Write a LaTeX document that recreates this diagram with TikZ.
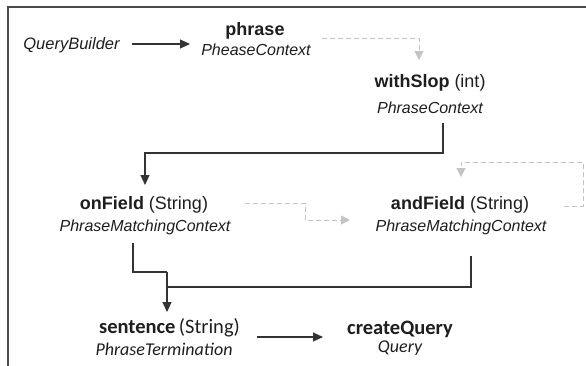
\documentclass[tikz,border=0pt]{standalone}
\usepackage{fontspec}
\setmainfont{Liberation Sans}
\newfontfamily\calib{Carlito}
\usetikzlibrary{arrows.meta,calc}
\definecolor{lineDark}{HTML}{333333}
\definecolor{dashGray}{HTML}{C4C4C4}
\definecolor{txtc}{HTML}{1E1E1E}
\definecolor{frameC}{HTML}{4A4A4A}
\begin{document}
\begin{tikzpicture}[x=1pt,y=-1pt,
  title/.style={inner sep=0pt, anchor=base, text=txtc, font=\fontsize{18}{20}\selectfont},
  typ/.style={inner sep=0pt, anchor=base, text=txtc, font=\fontsize{16}{18}\selectfont\itshape},
  btitle/.style={inner sep=0pt, anchor=base, text=txtc, font=\calib\fontsize{20.5}{22}\selectfont},
  btyp/.style={inner sep=0pt, anchor=base, text=txtc, font=\calib\fontsize{18}{20}\selectfont\itshape},
  sarr/.style={draw=lineDark, line width=1.1pt, -{Triangle[length=10pt,width=9pt]}},
  sline/.style={draw=lineDark, line width=1.1pt},
  darr/.style={draw=dashGray, line width=1pt, dash pattern=on 5pt off 3pt, -{Triangle[length=9pt,width=9pt]}},
  frame/.style={draw=frameC, line width=1.5pt},
]
\useasboundingbox (0,0) rectangle (586,365);
\fill[white] (0,0) rectangle (586,365);
\draw[frame] (8,366) -- (8,7) -- (587,7);

% nodes
\node[typ, font=\fontsize{16.5}{18}\selectfont\itshape] (qb) at (71.5,49.5) {QueryBuilder};
\node[title] (phrase) at (255,35) {\bfseries phrase};
\node[typ] (phraseT) at (256,55.5) {PheaseContext};
\node[title] (slop) at (430,87) {\textbf{withSlop} (int)};
\node[typ] (slopT) at (430,113.5) {PhraseContext};
\node[title] (onf) at (144,209) {\textbf{onField} (String)};
\node[typ] (onfT) at (145,231) {PhraseMatchingContext};
\node[title] (andf) at (460,209.5) {\textbf{andField} (String)};
\node[typ] (andfT) at (461,231) {PhraseMatchingContext};
\node[btitle] (sent) at (169.5,333.5) {\textbf{sentence}\,(String)};
\node[btyp] (sentT) at (164,355) {PhraseTermination};
\node[btitle] (cq) at (400,334) {\textbf{createQuery}};
\node[btyp] (cqT) at (400,352) {Query};

% connector end points
\coordinate (qbOut) at (132,44);
\coordinate (phIn) at (190,44);
\coordinate (phOut) at (322,38);
\coordinate (slIn) at (419,60);
\coordinate (slOut) at (443,123);
\coordinate (ofIn) at (145,185);
\coordinate (ofOut) at (245,203);
\coordinate (afIn) at (350,220);
\coordinate (afOut) at (564,206);
\coordinate (afLoopIn) at (461,177);
\coordinate (ofDown) at (133,243);
\coordinate (afDown) at (471,256);
\coordinate (join) at (167,272);
\coordinate (sentIn) at (167,312);
\coordinate (sentOut) at (257,337);
\coordinate (cqIn) at (323,337);

% connectors
\draw[sarr] (qbOut) -- (phIn);
\draw[darr] (phOut) -| (slIn);
\draw[sarr] (slOut) -- ++(0,30) -| (ofIn);
\draw[darr] (ofOut) -- ++(60,0) |- (afIn);
\draw[darr] (afOut) -- ++(19,0) -- ++(0,-44) -| (afLoopIn);
\draw[sline] (ofDown) |- (join);
\draw[sline] (afDown) |- ($(join)+(0,15)$);
\draw[sarr] (join) -- (sentIn);
\draw[sarr] (sentOut) -- (cqIn);
\end{tikzpicture}
\end{document}
